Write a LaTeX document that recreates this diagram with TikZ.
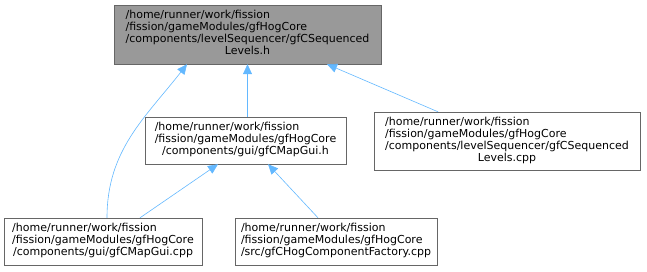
\documentclass[tikz,border=0pt]{standalone}
\usepackage{fontspec}
\setmainfont{DejaVu Sans}
\usetikzlibrary{arrows.meta}
\definecolor{edgeblue}{HTML}{63B8FF}
\definecolor{boxgray}{HTML}{999999}
\definecolor{linegray}{HTML}{666666}
\newcommand{\lastline}[1]{\multicolumn{1}{@{}c@{}}{#1}}
\begin{document}
\begin{tikzpicture}
[x=1pt, y=-1pt, font=\fontsize{11}{12}\selectfont]
\tikzstyle{file}=[rectangle, draw=linegray, fill=white, inner sep=0pt, anchor=center]
\tikzstyle{edge}=[draw=edgeblue, semithick, {Triangle[length=10pt,width=9pt]}-]
\useasboundingbox (0,0) rectangle (647,271);

\node[file, fill=boxgray, minimum width=267pt, minimum height=59pt] (A) at (247.5,34.5)
  {\begin{tabular}{@{}l@{}}/home/runner/work/fission\\/fission/gameModules/gfHogCore\\/components/levelSequencer/gfCSequenced\\\lastline{Levels.h}\end{tabular}};
\node[file, minimum width=201pt, minimum height=47pt] (B) at (245.5,140.5)
  {\begin{tabular}{@{}l@{}}/home/runner/work/fission\\/fission/gameModules/gfHogCore\\\lastline{/components/gui/gfCMapGui.h}\end{tabular}};
\node[file, minimum width=266pt, minimum height=58pt] (C) at (507,141)
  {\begin{tabular}{@{}l@{}}/home/runner/work/fission\\/fission/gameModules/gfHogCore\\/components/levelSequencer/gfCSequenced\\\lastline{Levels.cpp}\end{tabular}};
\node[file, minimum width=198pt, minimum height=47pt] (D) at (103,241.5)
  {\begin{tabular}{@{}l@{}}/home/runner/work/fission\\/fission/gameModules/gfHogCore\\\lastline{/components/gui/gfCMapGui.cpp}\end{tabular}};
\node[file, minimum width=202pt, minimum height=47pt] (E) at (336,241.5)
  {\begin{tabular}{@{}l@{}}/home/runner/work/fission\\/fission/gameModules/gfHogCore\\\lastline{/src/gfCHogComponentFactory.cpp}\end{tabular}};

\draw [edge] ([xshift=-60.5pt]A.south) to[out=232, in=90] ([xshift=4pt]D.north);
\draw [edge] (A.south) -- (A.south |- B.north);
\draw [edge] ([xshift=79.5pt]A.south) -- ([xshift=-69pt]C.north);
\draw [edge] ([xshift=-27.5pt]B.south) -- ([xshift=37pt]D.north);
\draw [edge] ([xshift=22.5pt]B.south) -- ([xshift=-18pt]E.north);

\end{tikzpicture}
\end{document}
